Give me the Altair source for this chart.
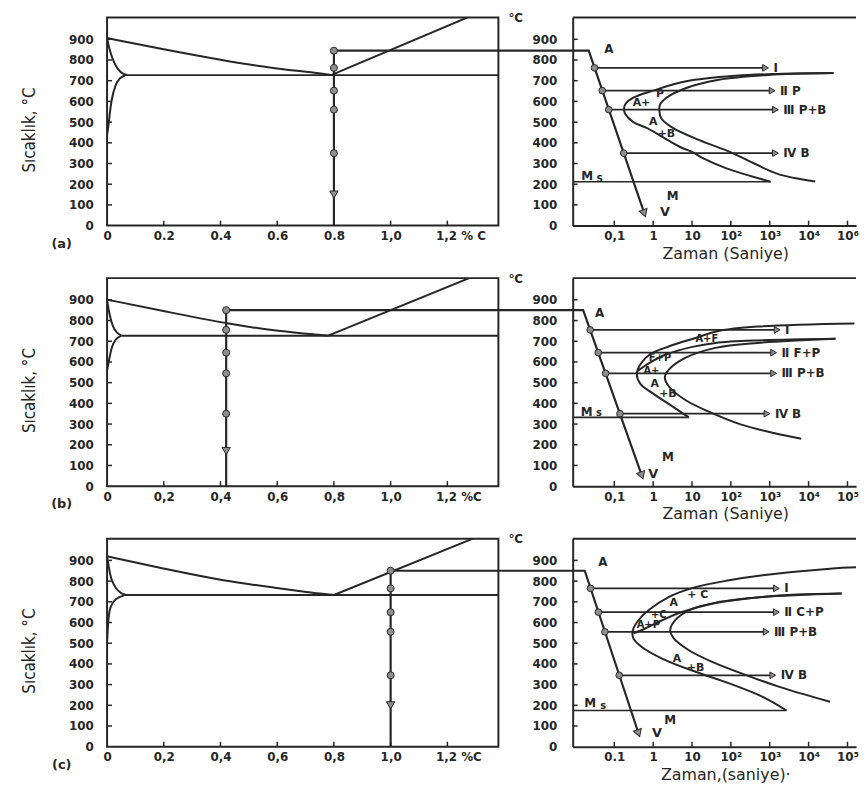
import math
import altair as alt
import pandas as pd

INK = "#262626"
DOT = "#8f8f8f"
FONT = "DejaVu Sans"
NARROW = "Liberation Sans Narrow, DejaVu Sans Condensed, Roboto, sans-serif"

# ---------------- axes, ticks, labels ----------------
TEMP_MAX = 1005
CARBON_MAX = 1.38
TIME_MIN = 0.00851
TIME_MAX = 166000
temp_ticks = [0, 100, 200, 300, 400, 500, 600, 700, 800, 900]
carbon_ticks = [0, 0.2, 0.4, 0.6, 0.8, 1.0, 1.2]
time_ticks = [0.1, 1, 10, 100, 1000, 10000, 100000]

carbon_labels_a = ["0", "0.2", "0.4", "0.6", "0.8", "1,0", "1,2 % C"]
carbon_labels_b = ["0", "0,2", "0,4", "0,6", "0,8", "1,0", "1,2 %C"]
carbon_labels_c = ["0", "0,2", "0,4", "0,6", "0,8", "1,0", "1,2 %C"]
time_labels_a = ["0,1", "1", "10", "10²", "10³", "10⁴", "10⁶"]
time_labels_b = ["0,1", "1", "10", "10²", "10³", "10⁴", "10⁵"]
time_labels_c = ["0.1", "1", "10", "10²", "10³", "10⁴", "10⁵"]
time_titles = ["Zaman (Saniye)", "Zaman (Saniye)", "Zaman,(saniye)·"]
panel_letters = ["(a)", "(b)", "(c)"]

# ---------------- row (a): 0.8 %C ----------------
a_alloy = 0.8
a_T0 = 845
a_A3_x = [0, 0.2, 0.4, 0.6, 0.75, 0.79]
a_A3_T = [906, 851, 800, 756, 737, 727]
a_Acm_x = [0.79, 1.27]
a_Acm_T = [727, 1005]
a_eut_x = [0.06, 1.38]
a_eut_T = [727, 727]
a_ag_x = [0, 0.01, 0.025, 0.04, 0.055, 0.07]
a_ag_T = [906, 840, 785, 750, 733, 728]
a_sol_x = [0.065, 0.045, 0.03, 0.014, 0.005, 0]
a_sol_T = [727, 715, 684, 605, 478, 440]
a_iso_T = [762, 652, 560, 350]
a_arrow_T = 150
a_cool_t = [TIME_MIN, 0.022, 0.59]
a_cool_T = [845, 845, 60]
a_dot_t = [0.031, 0.049, 0.072, 0.175]
a_iso_end = [780, 1150, 1400, 1400]
a_iso_lab = ["Ⅰ", "Ⅱ P", "Ⅲ P+B", "Ⅳ B"]
a_Ms_T = 212
a_Ms_end = 1050
a_start_t = [43600, 1585, 135, 7.1, 1.0, 0.31, 0.19, 0.178, 0.19, 0.31, 0.68, 4.8, 10.5, 19, 74, 1050]
a_start_T = [737, 733, 724, 697, 652, 618, 585, 562, 540, 500, 472, 381, 354, 326, 278, 212]
a_finish_t = [43600, 930, 49, 7.1, 2.2, 1.5, 1.45, 1.6, 3.2, 16, 100, 400, 1585, 14800]
a_finish_T = [737, 728, 705, 665, 618, 585, 554, 520, 472, 412, 354, 300, 250, 213]
a_txt = ["A", "A+", "P", "A", "+B", "M", "S", "M", "Ⅴ"]
a_txt_t = [0.072, 0.5, 1.5, 1.0, 2.2, 0.02, 0.042, 3.2, 2.0]
a_txt_T = [855, 594, 634, 499, 444, 238, 226, 144, 65]
a_txt_fs = [12, 11, 11, 11, 11, 12, 9, 12, 13]

# ---------------- row (b): 0.42 %C ----------------
b_alloy = 0.42
b_T0 = 850
b_A3_x = [0, 0.21, 0.43, 0.61, 0.75, 0.78]
b_A3_T = [901, 843, 782, 748, 731, 727]
b_Acm_x = [0.78, 1.277]
b_Acm_T = [727, 1005]
b_eut_x = [0.05, 1.38]
b_eut_T = [727, 727]
b_ag_x = [0, 0.008, 0.02, 0.035, 0.05]
b_ag_T = [901, 830, 770, 738, 729]
b_sol_x = [0.05, 0.03, 0.015, 0.006, 0]
b_sol_T = [727, 712, 670, 600, 560]
b_iso_T = [755, 645, 545, 350]
b_arrow_T = 170
b_cool_t = [TIME_MIN, 0.0158, 0.51]
b_cool_T = [850, 850, 52]
b_dot_t = [0.024, 0.0387, 0.0598, 0.14]
b_iso_end = [1550, 1260, 1260, 850]
b_iso_lab = ["Ⅰ", "Ⅱ F+P", "Ⅲ P+B", "Ⅳ B"]
b_Ms_T = 332
b_Ms_end = 8.3
b_c1_t = [151000, 480, 48, 12.3, 2.6, 0.83, 0.47, 0.38, 0.47, 1.0, 3.2, 8.3]
b_c1_T = [786, 771, 750, 716, 676, 637, 589, 542, 494, 447, 384, 332]
b_c2_t = [49000, 480, 40, 10.2, 2.2, 0.83, 0.40]
b_c2_T = [712, 704, 692, 673, 637, 597, 557]
b_c3_t = [49000, 480, 40, 6.9, 2.6, 2.0, 2.6, 6.9, 27, 186, 1260, 6460]
b_c3_T = [712, 692, 668, 621, 565, 526, 479, 415, 360, 297, 257, 229]
b_txt = ["A", "A+F", "F+P", "A+", "A", "+B", "M", "s", "M", "Ⅴ"]
b_txt_t = [0.042, 24, 1.5, 0.9, 1.1, 2.4, 0.0195, 0.04, 2.4, 1.0]
b_txt_T = [834, 712, 620, 557, 494, 447, 360, 352, 139, 60]
b_txt_fs = [12, 10, 10, 10, 11, 11, 12, 10, 12, 13]

# ---------------- row (c): 1.0 %C ----------------
c_alloy = 1.0
c_T0 = 850
c_A3_x = [0, 0.21, 0.41, 0.61, 0.70, 0.8]
c_A3_T = [920, 857, 801, 765, 746, 733]
c_Acm_x = [0.8, 1.29]
c_Acm_T = [733, 1005]
c_eut_x = [0.06, 1.38]
c_eut_T = [733, 733]
c_ag_x = [0, 0.007, 0.014, 0.03, 0.049, 0.065]
c_ag_T = [920, 860, 809, 765, 740, 734]
c_sol_x = [0.06, 0.03, 0.012, 0.005, 0]
c_sol_T = [731, 718, 680, 635, 508]
c_iso_T = [765, 650, 555, 345]
c_arrow_T = 200
c_cool_t = [TIME_MIN, 0.0174, 0.42]
c_cool_T = [850, 850, 65]
c_dot_t = [0.0245, 0.039, 0.0574, 0.134]
c_iso_end = [1480, 1480, 810, 1200]
c_iso_lab = ["Ⅰ", "Ⅱ C+P", "Ⅲ P+B", "Ⅳ B"]
c_Ms_T = 175
c_Ms_end = 2700
c_c1_t = [316000, 35500, 660, 91, 12.3, 2.5, 0.76, 0.42, 0.30, 0.31, 0.51, 1.7, 12.3, 91, 660, 2700]
c_c1_T = [868, 860, 828, 804, 771, 723, 659, 611, 563, 523, 482, 426, 362, 306, 241, 175]
c_c2_t = [70800, 4900, 245, 33, 5.5, 1.7, 0.63, 0.31]
c_c2_T = [740, 735, 715, 691, 651, 611, 571, 548]
c_c3_t = [70800, 660, 41, 8.3, 3.7, 2.75, 3.4, 8.3, 33, 245, 1780, 35500]
c_c3_T = [740, 723, 696, 659, 611, 563, 523, 466, 410, 346, 289, 217]
c_txt = ["A", "A", "+ C", "+C", "A+P", "A", "+B", "M", "s", "M", "Ⅴ"]
c_txt_t = [0.051, 3.4, 14, 1.4, 0.75, 4.1, 12.3, 0.024, 0.052, 2.75, 1.26]
c_txt_T = [892, 696, 735, 638, 590, 423, 381, 209, 198, 129, 65]
c_txt_fs = [12, 11, 11, 10, 10, 11, 11, 12, 10, 12, 13]

# ---------------- layout ----------------
LW, RW, H = 395, 286, 210
COL_GAP, ROW_GAP = 75, 53
CARBON_LINK = CARBON_MAX + COL_GAP * CARBON_MAX / LW  # reaches the left edge of the TTT panel


def segs(*lines):
    rows = []
    for i, (xs, ys) in enumerate(lines):
        for j, (x, y) in enumerate(zip(xs, ys)):
            rows.append({"x": x, "T": y, "id": i, "ord": j})
    return pd.DataFrame(rows)


def pts(xs, ys, **extra):
    d = {"x": list(xs), "T": list(ys)}
    d.update({k: list(v) for k, v in extra.items()})
    return pd.DataFrame(d)


def expr_linear(vals, labels):
    parts = [f"abs(datum.value - {v}) < 0.01 ? '{l}'" for v, l in zip(vals, labels)]
    return " : ".join(parts) + " : ''"


def expr_log(vals, labels):
    parts = [f"abs(log(datum.value) / LN10 - ({round(math.log10(v))})) < 0.1 ? '{l}'"
             for v, l in zip(vals, labels)]
    return " : ".join(parts) + " : ''"


LABEL_STYLE = dict(labelFont=FONT, labelFontSize=12, labelFontWeight="bold", labelColor=INK)


def left_panel(p):
    x = alt.X("x:Q", scale=alt.Scale(domain=[0, CARBON_MAX], nice=False, zero=False),
              axis=alt.Axis(values=carbon_ticks, labelExpr=expr_linear(carbon_ticks, p["clabels"]),
                            title=None, ticks=False, domain=False, grid=False, labelPadding=5,
                            labelAlign={"condition": {"test": "datum.value > 1.1", "value": "left"},
                                        "value": "center"},
                            labelOffset={"condition": {"test": "datum.value > 1.1", "value": -12},
                                         "value": 0},
                            **LABEL_STYLE))
    y = alt.Y("T:Q", scale=alt.Scale(domain=[0, TEMP_MAX], nice=False, zero=False),
              axis=alt.Axis(values=temp_ticks, title="Sıcaklık, °C", titleFont=NARROW,
                            titleFontSize=17, titleFontWeight="normal", titleColor=INK,
                            titleX=-78, titleY=113, titleBaseline="middle", titleAlign="center",
                            titleAngle=270, ticks=False, domain=False, grid=False,
                            labelPadding=14, labelFlush=False, **LABEL_STYLE))
    a, T0 = p["alloy"], p["T0"]
    phase = alt.Chart(segs(*p["phase"])).mark_line(
        color=INK, strokeWidth=2, interpolate="basis", clip=True
    ).encode(x=x, y=y, detail="id:N", order="ord:Q")
    alloy = alt.Chart(segs(([a, a], [T0, 0]), ([a, CARBON_LINK], [T0, T0]))).mark_line(
        color=INK, strokeWidth=2.2, clip=False
    ).encode(x=x, y=y, detail="id:N", order="ord:Q")
    ty = alt.Chart(pd.DataFrame({"T": temp_ticks[1:]})).mark_rule(color=INK, strokeWidth=1.5).encode(
        y=y, x=alt.value(0), x2=alt.value(5))
    tx = alt.Chart(pd.DataFrame({"x": carbon_ticks[1:]})).mark_rule(color=INK, strokeWidth=1.5).encode(
        x=x, y=alt.value(H), y2=alt.value(H - 5))
    dots = alt.Chart(pts([a] * (1 + len(p["iso_T"])), [T0] + p["iso_T"])).mark_point(
        shape="circle", filled=True, size=50, fill=DOT, stroke=INK, strokeWidth=1, opacity=1
    ).encode(x=x, y=y)
    arrow = alt.Chart(pts([a], [p["arrow_T"]])).mark_point(
        shape="triangle-down", filled=True, size=70, fill=DOT, stroke=INK, strokeWidth=1, opacity=1
    ).encode(x=x, y=y)
    letter = alt.Chart(pts([-0.16], [-88], lab=[p["letter"]])).mark_text(
        font=FONT, fontSize=13, fontWeight="bold", color=INK
    ).encode(x=x, y=y, text="lab:N")
    return alt.layer(phase, alloy, ty, tx, dots, arrow, letter).properties(
        width=LW, height=H, view=alt.ViewBackground(stroke=INK, strokeWidth=2))


def right_panel(p):
    x = alt.X("x:Q", scale=alt.Scale(type="log", domain=[TIME_MIN, TIME_MAX], nice=False),
              axis=alt.Axis(values=time_ticks, labelExpr=expr_log(time_ticks, p["tlabels"]),
                            title=p["ttitle"], titleFont=FONT, titleFontSize=16,
                            titleFontWeight="normal", titleColor=INK, titleX=154, titlePadding=4,
                            labelPadding=5, ticks=False, grid=False, domain=True,
                            domainColor=INK, domainWidth=2, labelFlush=False, **LABEL_STYLE))
    y = alt.Y("T:Q", scale=alt.Scale(domain=[0, TEMP_MAX], nice=False, zero=False),
              axis=alt.Axis(values=temp_ticks, title="°C", titleFont=FONT, titleFontSize=12,
                            titleFontWeight="bold", titleColor=INK, titleAngle=0, titleX=-58,
                            titleY=7, titleBaseline="bottom", titleAlign="center",
                            ticks=False, grid=False, domain=True, domainColor=INK, domainWidth=2,
                            labelPadding=16, labelFlush=False, **LABEL_STYLE))
    top = alt.Chart(pd.DataFrame({"x": [TIME_MIN], "x2": [TIME_MAX], "T": [TEMP_MAX]})).mark_rule(
        color=INK, strokeWidth=2).encode(x=x, x2="x2:Q", y=y)
    ty = alt.Chart(pd.DataFrame({"T": temp_ticks[1:]})).mark_rule(color=INK, strokeWidth=1.5).encode(
        y=y, x=alt.value(0), x2=alt.value(5))
    tx = alt.Chart(pd.DataFrame({"x": time_ticks})).mark_rule(color=INK, strokeWidth=1.5).encode(
        x=x, y=alt.value(H), y2=alt.value(H - 5))
    curves = alt.Chart(segs(*p["curves"])).mark_line(
        color=INK, strokeWidth=2, interpolate="catmull-rom", clip=True
    ).encode(x=x, y=y, detail="id:N", order="ord:Q")
    iso_lines = [([t0, t1], [T, T]) for t0, t1, T in zip(p["dot_t"], p["iso_end"], p["iso_T"])]
    straight = alt.Chart(segs(([TIME_MIN, p["Ms_end"]], [p["Ms_T"], p["Ms_T"]]), *iso_lines)).mark_line(
        color=INK, strokeWidth=1.7, clip=True
    ).encode(x=x, y=y, detail="id:N", order="ord:Q")
    cool = alt.Chart(segs((p["cool_t"], p["cool_T"]))).mark_line(
        color=INK, strokeWidth=2.2, clip=True
    ).encode(x=x, y=y, detail="id:N", order="ord:Q")
    heads = alt.Chart(pts(p["iso_end"], p["iso_T"])).mark_point(
        shape="triangle-right", filled=True, size=45, fill=DOT, stroke=INK, strokeWidth=1, opacity=1
    ).encode(x=x, y=y)
    dots = alt.Chart(pts(p["dot_t"], p["iso_T"])).mark_point(
        shape="circle", filled=True, size=45, fill=DOT, stroke=INK, strokeWidth=1, opacity=1
    ).encode(x=x, y=y)
    carrow = alt.Chart(pts([p["cool_t"][-1]], [p["cool_T"][-1]])).mark_point(
        shape="triangle-down", filled=True, size=70, fill=DOT, stroke=INK, strokeWidth=1,
        opacity=1, angle=341
    ).encode(x=x, y=y)
    iso_text = alt.Chart(pts(p["iso_end"], p["iso_T"], lab=p["iso_lab"])).mark_text(
        align="left", dx=8, baseline="middle", font=FONT, fontSize=12, fontWeight="bold", color=INK
    ).encode(x=x, y=y, text="lab:N")
    regions = alt.Chart(pts(p["txt_t"], p["txt_T"], lab=p["txt"], fs=p["txt_fs"])).mark_text(
        align="center", baseline="middle", font=FONT, fontWeight="bold", color=INK
    ).encode(x=x, y=y, text="lab:N", size=alt.Size("fs:Q", scale=None))
    return alt.layer(top, ty, tx, curves, straight, cool, heads, dots, carrow, iso_text, regions).properties(
        width=RW, height=H, view=alt.ViewBackground(stroke="transparent", strokeWidth=0))


rows = [
    dict(alloy=a_alloy, T0=a_T0, iso_T=a_iso_T, arrow_T=a_arrow_T, letter=panel_letters[0],
         clabels=carbon_labels_a,
         phase=[(a_A3_x, a_A3_T), (a_Acm_x, a_Acm_T), (a_eut_x, a_eut_T), (a_ag_x, a_ag_T), (a_sol_x, a_sol_T)],
         tlabels=time_labels_a, ttitle=time_titles[0], cool_t=a_cool_t, cool_T=a_cool_T, dot_t=a_dot_t,
         iso_end=a_iso_end, iso_lab=a_iso_lab, Ms_T=a_Ms_T, Ms_end=a_Ms_end,
         curves=[(a_start_t, a_start_T), (a_finish_t, a_finish_T)],
         txt=a_txt, txt_t=a_txt_t, txt_T=a_txt_T, txt_fs=a_txt_fs),
    dict(alloy=b_alloy, T0=b_T0, iso_T=b_iso_T, arrow_T=b_arrow_T, letter=panel_letters[1],
         clabels=carbon_labels_b,
         phase=[(b_A3_x, b_A3_T), (b_Acm_x, b_Acm_T), (b_eut_x, b_eut_T), (b_ag_x, b_ag_T), (b_sol_x, b_sol_T)],
         tlabels=time_labels_b, ttitle=time_titles[1], cool_t=b_cool_t, cool_T=b_cool_T, dot_t=b_dot_t,
         iso_end=b_iso_end, iso_lab=b_iso_lab, Ms_T=b_Ms_T, Ms_end=b_Ms_end,
         curves=[(b_c1_t, b_c1_T), (b_c2_t, b_c2_T), (b_c3_t, b_c3_T)],
         txt=b_txt, txt_t=b_txt_t, txt_T=b_txt_T, txt_fs=b_txt_fs),
    dict(alloy=c_alloy, T0=c_T0, iso_T=c_iso_T, arrow_T=c_arrow_T, letter=panel_letters[2],
         clabels=carbon_labels_c,
         phase=[(c_A3_x, c_A3_T), (c_Acm_x, c_Acm_T), (c_eut_x, c_eut_T), (c_ag_x, c_ag_T), (c_sol_x, c_sol_T)],
         tlabels=time_labels_c, ttitle=time_titles[2], cool_t=c_cool_t, cool_T=c_cool_T, dot_t=c_dot_t,
         iso_end=c_iso_end, iso_lab=c_iso_lab, Ms_T=c_Ms_T, Ms_end=c_Ms_end,
         curves=[(c_c1_t, c_c1_T), (c_c2_t, c_c2_T), (c_c3_t, c_c3_T)],
         txt=c_txt, txt_t=c_txt_t, txt_T=c_txt_T, txt_fs=c_txt_fs),
]

panels = []
for r in rows:
    panels.append(left_panel(r))
    panels.append(right_panel(r))

chart = alt.concat(
    *panels, columns=2, spacing={"row": ROW_GAP, "column": COL_GAP}, bounds="flush"
).properties(
    padding={"left": 12, "top": 0, "right": 0, "bottom": 0}
).configure(background="white")

chart.save("out.html", embed_options={"renderer": "svg", "actions": False})
